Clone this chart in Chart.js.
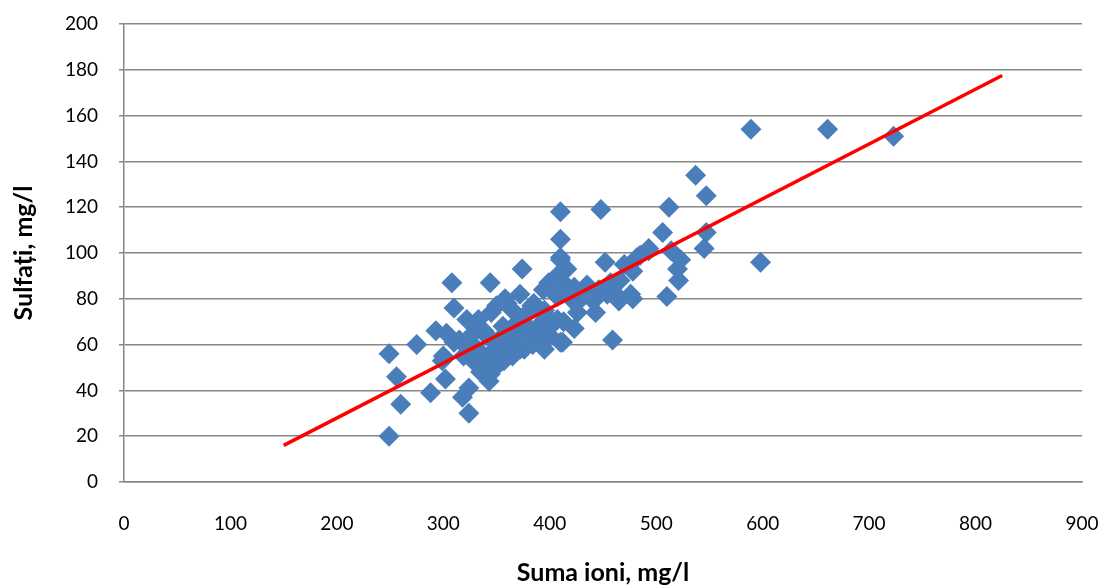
<!DOCTYPE html>
<html>
<head>
<meta charset="utf-8">
<script src="https://cdn.jsdelivr.net/npm/chart.js@4"></script>
<style>
  html, body { margin: 0; padding: 0; background: #fff; }
  #wrap { width: 1104px; height: 588px; }
</style>
</head>
<body>
<div id="wrap"><canvas id="chart" width="1104" height="588"></canvas></div>
<script>
// Suma ioni (mg/l) pentru fiecare proba
const sumaIoni = [
  249, 249, 256, 260, 275, 288, 293, 299, 302, 303, 308, 310, 310, 300, 319, 318, 324, 324, 322, 333,
  328, 338, 332, 344, 338, 351, 343, 344, 344, 357, 360, 369, 360, 372, 374, 385, 391, 379, 401, 407,
  410, 376, 365, 382, 398, 407, 358, 383, 399, 409, 410, 410, 410, 410, 448, 405, 416, 394, 404,
  452, 470, 478, 482, 485, 493, 493, 506, 512, 514, 523, 520, 521, 510, 457, 454, 465, 478, 441, 443,
  426, 423, 413, 459, 412, 413, 423, 537, 547, 547, 545, 589, 598, 661, 723, 460, 476,
  335, 340, 348, 355, 352, 363, 370, 375, 380, 387, 392, 395, 365, 356, 346, 330, 327, 315, 395, 400,
  420, 430, 435, 418, 425, 466, 446, 372, 362, 384, 368, 350, 345, 340
];
// Sulfati (mg/l) corespunzatori
const sulfati = [
  20, 56, 46, 34, 60, 39, 66, 53, 45, 65, 87, 76, 61, 55, 55, 37, 30, 41, 71, 71,
  65, 66, 58, 56, 53, 51, 44, 47, 87, 53, 59, 61, 78, 82, 93, 78, 69, 68, 68, 71,
  61, 58, 55, 64, 72, 81, 80, 77, 87, 91, 97, 98, 106, 118, 119, 89, 93, 84, 88,
  96, 95, 92, 98, 99, 101, 102, 109, 120, 101, 97, 93, 88, 81, 87, 82, 79, 80, 79, 74,
  74, 67, 70, 62, 61, 87, 85, 134, 125, 109, 102, 154, 96, 154, 151, 83, 82,
  48, 50, 55, 57, 62, 65, 70, 72, 74, 62, 66, 75, 75, 68, 62, 52, 60, 62, 58, 64,
  80, 83, 86, 82, 78, 88, 84, 58, 57, 60, 65, 77, 74, 64
];
// capetele dreptei de regresie
const trendX = [150, 825];
const trendY = [16, 177.5];

const xTicks = [0, 100, 200, 300, 400, 500, 600, 700, 800, 900];
const yTicks = [0, 20, 40, 60, 80, 100, 120, 140, 160, 180, 200];

const puncte = sumaIoni.map((x, i) => ({ x: x, y: sulfati[i] }));
const trend = trendX.map((x, i) => ({ x: x, y: trendY[i] }));

const font = 'Lato, "Open Sans", sans-serif';
const gri = '#878787';

new Chart(document.getElementById('chart'), {
  type: 'scatter',
  data: {
    datasets: [
      {
        label: 'Trend',
        data: trend,
        showLine: true,
        borderColor: '#FF0000',
        borderWidth: 3.5,
        pointRadius: 0,
        order: 0
      },
      {
        label: 'Sulfati',
        data: puncte,
        pointStyle: 'rectRot',
        pointRadius: 10.5,
        pointHoverRadius: 10.5,
        backgroundColor: '#4A7EBB',
        borderColor: '#4A7EBB',
        borderWidth: 0,
        order: 1
      }
    ]
  },
  options: {
    responsive: false,
    animation: false,
    layout: { padding: { left: 0, right: 22, top: 24, bottom: 0 } },
    plugins: {
      legend: { display: false },
      tooltip: { enabled: false }
    },
    scales: {
      x: {
        type: 'linear',
        min: 0,
        max: 900,
        afterBuildTicks: (scale) => { scale.ticks = xTicks.map(v => ({ value: v })); },
        afterFit: (scale) => {
          scale.height = 106;
          scale.paddingLeft = 0;
          scale.paddingRight = 0;
        },
        grid: { display: false, drawTicks: false },
        border: { display: true, color: gri, width: 1.5 },
        ticks: { padding: 30, color: '#000', font: { family: font, size: 19 } },
        title: {
          display: true,
          text: 'Suma ioni, mg/l',
          color: '#000',
          font: { family: font, size: 25, weight: 'bold' },
          padding: { top: 0, bottom: 0 }
        }
      },
      y: {
        type: 'linear',
        min: 0,
        max: 200,
        afterBuildTicks: (scale) => { scale.ticks = yTicks.map(v => ({ value: v })); },
        afterFit: (scale) => {
          scale.width = 124;
          scale.paddingTop = 0;
          scale.paddingBottom = 0;
        },
        grid: { color: gri, lineWidth: 1.5, drawTicks: true, tickLength: 5 },
        border: { display: true, color: gri, width: 1.5 },
        ticks: { padding: 21, color: '#000', font: { family: font, size: 19 } },
        title: {
          display: true,
          text: 'Sulfați, mg/l',
          color: '#000',
          font: { family: font, size: 25, weight: 'bold' },
          padding: { top: 9, bottom: 0 }
        }
      }
    }
  }
});
</script>
</body>
</html>
